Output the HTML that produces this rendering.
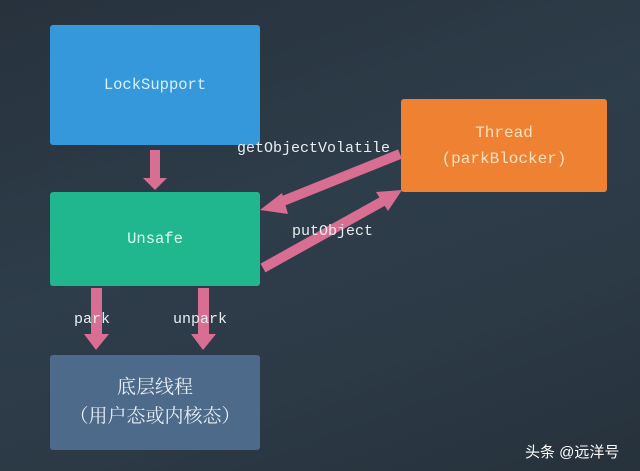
<!DOCTYPE html>
<html><head><meta charset="utf-8"><style>
body{margin:0;width:640px;height:471px;overflow:hidden;background:linear-gradient(160deg,#27323d 0%,#2e3d4a 45%,#2c3a46 70%,#26313b 100%);position:relative;font-family:"Liberation Mono","Noto Serif CJK SC",monospace}
.b{position:absolute;border-radius:3px;display:flex;flex-direction:column;align-items:center;justify-content:center;font-size:15.5px;line-height:26px}
.l{position:absolute;color:#e8eef0;font-size:15px}
</style></head><body>
<div class="b" style="left:50px;top:25px;width:210px;height:120px;background:#3498db;color:#d8f0ff">LockSupport</div>
<div class="b" style="left:50px;top:192px;width:210px;height:94px;background:#20b68e;color:#d8fff0">Unsafe</div>
<div class="b" style="left:50px;top:355px;width:210px;height:95px;background:#4d6a8a;color:#e6edf4;font-size:19px;line-height:29px"><div>底层线程</div><div>（用户态或内核态）</div></div>
<div class="b" style="left:401px;top:99px;width:206px;height:93px;background:#ee8232;color:#fde0c0;font-size:16px"><div>Thread</div><div>(parkBlocker)</div></div>
<svg width="640" height="471" style="position:absolute;left:0;top:0">
<g fill="#d96e93">
<rect x="150" y="150" width="10" height="30"/><polygon points="143,178 167,178 155,190"/>
<rect x="91" y="288" width="11" height="50"/><polygon points="84,334 109,334 96,350"/>
<rect x="198" y="288" width="11" height="50"/><polygon points="191,334 216,334 203,350"/>
</g>
<g stroke="#d96e93" stroke-width="10" fill="none">
<line x1="400" y1="154" x2="278" y2="203"/>
<line x1="263" y1="268" x2="385" y2="200"/>
</g>
<g fill="#d96e93">
<polygon points="260,210 282,193 288,214"/>
<polygon points="402,190 376,192 388,211"/>
</g>
</svg>
<div class="l" style="left:237px;top:140px">getObjectVolatile</div>
<div class="l" style="left:292px;top:223px">putObject</div>
<div class="l" style="left:74px;top:311px">park</div>
<div class="l" style="left:173px;top:311px">unpark</div>
<div style="position:absolute;left:525px;top:441px;color:#fff;font-family:'Liberation Sans','Noto Sans CJK SC',sans-serif;font-size:15px">头条 @远洋号</div>
</body></html>
